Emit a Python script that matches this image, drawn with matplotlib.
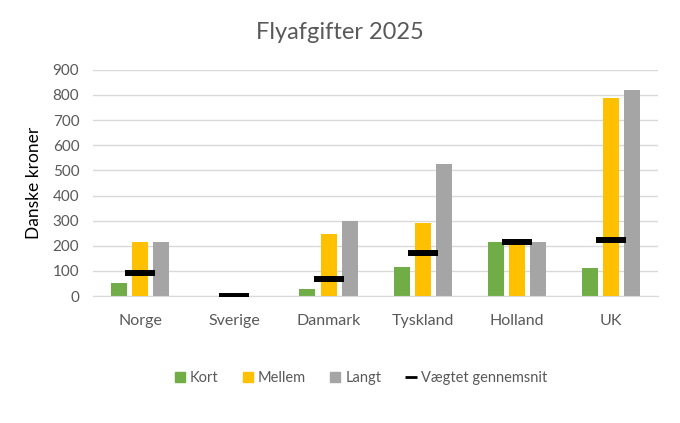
import matplotlib.pyplot as plt
from matplotlib.lines import Line2D
import numpy as np

plt.rcParams['font.family'] = ['Lato', 'DejaVu Sans']

lande = ['Norge', 'Sverige', 'Danmark', 'Tyskland', 'Holland', 'UK']
kort = [53, 0, 28, 114, 215, 110]
mellem = [216, 0, 248, 292, 215, 786]
langt = [216, 0, 299, 526, 215, 820]
gennemsnit = [90, 0, 69, 172, 217, 223]

green = '#70AD47'
yellow = '#FFC000'
grey = '#A5A5A5'
txt = '#595959'

fig = plt.figure(figsize=(6.8, 4.23), dpi=100)
ax = fig.add_axes([0.137, 0.300, 0.831, 0.535])

x = np.arange(len(lande))
w = 0.17
off = 0.225
ax.bar(x - off, kort, w, color=green, zorder=2)
ax.bar(x, mellem, w, color=yellow, zorder=2)
ax.bar(x + off, langt, w, color=grey, zorder=2)
ax.plot(x, gennemsnit, linestyle='none', marker='_', markersize=21,
        markeredgewidth=4.3, color='black', zorder=3)

ax.set_xlim(-0.5, len(lande) - 0.5)
ax.set_ylim(0, 900)
ax.set_yticks(range(0, 901, 100))
ax.set_xticks(x)
ax.set_xticklabels(lande)
ax.yaxis.grid(True, color='#D9D9D9', linewidth=1, zorder=0)
ax.set_axisbelow(True)
for s in ['top', 'right', 'left']:
    ax.spines[s].set_visible(False)
ax.spines['bottom'].set_color('#D9D9D9')
ax.tick_params(axis='y', length=0, labelsize=11, colors=txt, pad=10)
ax.tick_params(axis='x', length=0, labelsize=11.5, colors=txt, pad=13)
ax.set_ylabel('Danske kroner', fontsize=12.5, color='black', labelpad=8)

fig.text(0.5, 0.922, 'Flyafgifter 2025', ha='center', va='center',
         fontsize=17, color=txt)

handles = [
    Line2D([], [], linestyle='none', marker='s', markersize=7, color=green),
    Line2D([], [], linestyle='none', marker='s', markersize=7, color=yellow),
    Line2D([], [], linestyle='none', marker='s', markersize=7, color=grey),
    Line2D([], [], linestyle='none', marker='_', markersize=9,
           markeredgewidth=2, color='black'),
]
labels = ['Kort', 'Mellem', 'Langt', 'Vægtet gennemsnit']
fig.legend(handles, labels, loc='center', bbox_to_anchor=(0.53, 0.107),
           ncol=4, frameon=False, fontsize=10.5, handlelength=0.8,
           handletextpad=0.3, columnspacing=1.6, labelcolor=txt)

fig.savefig('out.png', dpi=100)
